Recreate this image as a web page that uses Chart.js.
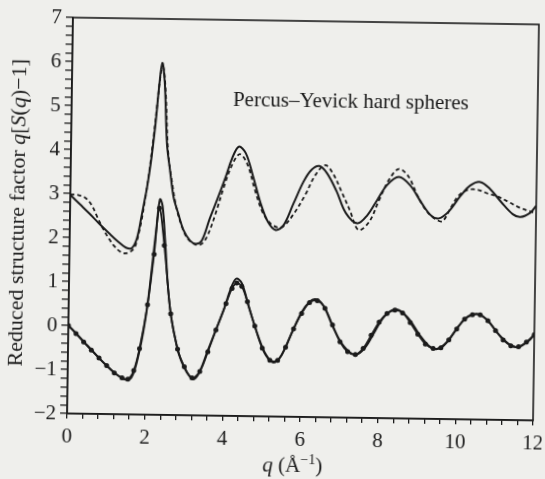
<!DOCTYPE html>
<html>
<head>
<meta charset="utf-8">
<script src="https://cdn.jsdelivr.net/npm/chart.js@4"></script>
<style>
  html, body { margin: 0; padding: 0; background: #efefec; }
  #wrap { width: 545px; height: 479px; }
  #chart { transform: rotate(0.85deg); transform-origin: 304px 219px; }
</style>
</head>
<body>
<div id="wrap"><canvas id="chart" width="545" height="479"></canvas></div>
<script>
// upper pair, shifted up by 3
const qUpper = [0, 0.25, 0.5, 0.75, 1.0, 1.25, 1.45, 1.6, 1.73, 1.84, 1.92, 1.97, 2.07, 2.17, 2.25, 2.32, 2.39, 2.47, 2.56, 2.66, 2.78, 2.93, 3.1, 3.25, 3.4, 3.6, 3.8, 4.0, 4.15, 4.32, 4.5, 4.7, 4.9, 5.1, 5.3, 5.5, 5.75, 6.0, 6.2, 6.4, 6.6, 6.85, 7.1, 7.4, 7.65, 7.9, 8.15, 8.45, 8.75, 9.05, 9.3, 9.5, 9.75, 10.05, 10.3, 10.55, 10.8, 11.1, 11.4, 11.6, 11.85, 12.0];
const upperSolid = [2.97, 2.76, 2.55, 2.33, 2.12, 1.92, 1.79, 1.78, 2.0, 2.5, 2.9, 3.15, 3.8, 4.65, 5.5, 6.0, 5.55, 4.15, 3.55, 2.95, 2.6, 2.2, 1.97, 1.9, 1.97, 2.48, 2.95, 3.45, 3.85, 4.12, 3.98, 3.45, 2.85, 2.42, 2.24, 2.35, 2.85, 3.35, 3.62, 3.71, 3.55, 3.15, 2.65, 2.42, 2.6, 2.95, 3.3, 3.49, 3.3, 2.9, 2.62, 2.56, 2.72, 3.08, 3.32, 3.4, 3.25, 2.95, 2.68, 2.62, 2.72, 2.88];

const qDashed = [0, 0.2, 0.4, 0.55, 0.7, 0.85, 1.0, 1.15, 1.3, 1.45, 1.6, 1.7, 1.83, 1.92, 2.02, 2.12, 2.22, 2.3, 2.35, 2.42, 2.5, 2.63, 2.74, 2.9, 3.05, 3.25, 3.4, 3.55, 3.75, 3.95, 4.15, 4.35, 4.55, 4.75, 4.95, 5.15, 5.35, 5.5, 5.75, 6.05, 6.3, 6.55, 6.75, 7.0, 7.2, 7.43, 7.7, 7.95, 8.2, 8.45, 8.7, 8.95, 9.2, 9.45, 9.6, 9.8, 10.0, 10.25, 10.5, 10.75, 11.0, 11.3, 11.6, 11.85, 12.0];
const upperDashed = [2.98, 2.97, 2.9, 2.75, 2.48, 2.22, 2.0, 1.82, 1.7, 1.66, 1.72, 1.85, 2.35, 2.85, 3.5, 4.3, 5.2, 5.85, 5.9, 5.3, 4.0, 3.2, 2.7, 2.25, 2.0, 1.88, 1.9, 2.1, 2.6, 3.2, 3.7, 3.95, 3.72, 3.15, 2.65, 2.4, 2.3, 2.33, 2.6, 3.05, 3.5, 3.73, 3.55, 3.1, 2.72, 2.27, 2.45, 2.95, 3.42, 3.67, 3.5, 3.05, 2.7, 2.52, 2.5, 2.8, 3.08, 3.22, 3.22, 3.14, 3.08, 2.95, 2.82, 2.75, 2.7];

// lower pair
const qLower = [0, 0.25, 0.5, 0.75, 1.0, 1.25, 1.45, 1.6, 1.71, 1.84, 1.93, 2.03, 2.13, 2.23, 2.31, 2.38, 2.46, 2.54, 2.63, 2.74, 2.85, 3.0, 3.15, 3.25, 3.4, 3.6, 3.8, 4.0, 4.15, 4.3, 4.45, 4.65, 4.9, 5.1, 5.3, 5.5, 5.75, 6.0, 6.2, 6.35, 6.55, 6.8, 7.1, 7.4, 7.65, 7.9, 8.15, 8.45, 8.75, 9.05, 9.3, 9.5, 9.75, 10.05, 10.3, 10.55, 10.8, 11.1, 11.4, 11.6, 11.85, 12.0];
const lowerSolid = [0, -0.22, -0.45, -0.68, -0.9, -1.09, -1.2, -1.2, -1.02, -0.55, -0.12, 0.5, 1.35, 2.25, 2.9, 2.75, 1.95, 1.0, 0.3, -0.2, -0.6, -0.92, -1.12, -1.18, -1.0, -0.52, -0.05, 0.42, 0.85, 1.12, 1.02, 0.45, -0.2, -0.6, -0.77, -0.6, -0.1, 0.38, 0.62, 0.68, 0.55, 0.08, -0.38, -0.57, -0.4, -0.02, 0.33, 0.48, 0.28, -0.1, -0.35, -0.41, -0.25, 0.12, 0.35, 0.4, 0.25, -0.07, -0.3, -0.34, -0.2, -0.05];

const qFit = [0, 0.2, 0.4, 0.6, 0.8, 1.0, 1.2, 1.4, 1.55, 1.7, 1.84, 2.03, 2.18, 2.3, 2.44, 2.63, 2.82, 3.0, 3.2, 3.4, 3.6, 3.8, 4.05, 4.2, 4.32, 4.45, 4.6, 4.8, 5.0, 5.2, 5.4, 5.6, 5.8, 6.0, 6.2, 6.4, 6.6, 6.8, 7.0, 7.2, 7.4, 7.6, 7.8, 8.0, 8.2, 8.4, 8.6, 8.8, 9.0, 9.2, 9.4, 9.6, 9.8, 10.0, 10.2, 10.4, 10.6, 10.8, 11.0, 11.2, 11.4, 11.6, 11.8, 12.0];
const lowerFit = [0, -0.18, -0.37, -0.55, -0.73, -0.9, -1.06, -1.17, -1.2, -1.0, -0.5, 0.5, 1.65, 2.7, 1.85, 0.3, -0.5, -0.9, -1.15, -1.0, -0.55, -0.05, 0.55, 0.9, 1.02, 0.95, 0.6, 0.05, -0.45, -0.72, -0.72, -0.42, 0.0, 0.35, 0.6, 0.65, 0.48, 0.1, -0.28, -0.5, -0.56, -0.42, -0.12, 0.18, 0.38, 0.46, 0.4, 0.18, -0.08, -0.3, -0.4, -0.38, -0.2, 0.05, 0.28, 0.38, 0.38, 0.25, 0.03, -0.18, -0.31, -0.33, -0.22, -0.05];

const ink = '#1b1b1b';
const serif = '"Liberation Serif", "Times New Roman", serif';

function pts(xs, ys) {
  return xs.map((x, i) => ({x: x, y: ys[i]}));
}

function fmt(v) {
  const r = Math.round(v);
  if (Math.abs(v - r) > 1e-6) return '';
  return r < 0 ? '\u2212' + Math.abs(r) : String(r);
}

// keep the plot box fixed, labels may hang over the edges
function noPad(s) {
  s.paddingLeft = 0; s.paddingRight = 0; s.paddingTop = 0; s.paddingBottom = 0;
}

// box, axis titles and the inset label
const decor = {
  id: 'decor',
  afterDraw(chart) {
    const ctx = chart.ctx;
    const a = chart.chartArea;
    const xs = chart.scales.x, ys = chart.scales.y;
    ctx.save();
    ctx.strokeStyle = ink;
    ctx.lineWidth = 1.6;
    ctx.strokeRect(a.left, a.top, a.right - a.left, a.bottom - a.top);

    ctx.fillStyle = ink;
    ctx.textBaseline = 'alphabetic';

    // label inside the plot
    ctx.font = '21px ' + serif;
    ctx.textAlign = 'left';
    ctx.fillText('Percus\u2013Yevick hard spheres', xs.getPixelForValue(4.15), ys.getPixelForValue(5.05));

    // x title: q (Å^-1)
    const xParts = [
      {t: 'q', f: 'italic 21px ' + serif, dy: 0},
      {t: ' (\u00c5', f: '21px ' + serif, dy: 0},
      {t: '\u22121', f: '14px ' + serif, dy: -8},
      {t: ')', f: '21px ' + serif, dy: 0}
    ];
    drawParts(ctx, xParts, (a.left + a.right) / 2 - 7, 472);

    // y title, rotated
    ctx.translate(24, (a.top + a.bottom) / 2 - 2);
    ctx.rotate(-Math.PI / 2);
    const n = '22px ' + serif, it = 'italic 22px ' + serif;
    const yParts = [
      {t: 'Reduced structure factor ', f: n, dy: 0},
      {t: 'q', f: it, dy: 0},
      {t: '[', f: n, dy: 0},
      {t: 'S', f: it, dy: 0},
      {t: '(', f: n, dy: 0},
      {t: 'q', f: it, dy: 0},
      {t: ')\u22121]', f: n, dy: 0}
    ];
    drawParts(ctx, yParts, 0, 0);
    ctx.restore();
  }
};

function drawParts(ctx, parts, cx, baseY) {
  let total = 0;
  parts.forEach(p => { ctx.font = p.f; p.w = ctx.measureText(p.t).width; total += p.w; });
  let x = cx - total / 2;
  ctx.textAlign = 'left';
  parts.forEach(p => {
    ctx.font = p.f;
    ctx.fillText(p.t, x, baseY + p.dy);
    x += p.w;
  });
}

new Chart(document.getElementById('chart'), {
  type: 'line',
  data: {
    datasets: [
      {data: pts(qUpper, upperSolid), borderColor: ink, borderWidth: 2, pointRadius: 0, tension: 0.35},
      {data: pts(qDashed, upperDashed), borderColor: ink, borderWidth: 1.8, borderDash: [4, 3], pointRadius: 0, tension: 0.35},
      {data: pts(qLower, lowerSolid), borderColor: ink, borderWidth: 2, pointRadius: 0, tension: 0.35},
      {data: pts(qFit, lowerFit), borderColor: ink, borderWidth: 1.8, pointRadius: 2.5, pointBackgroundColor: ink, pointBorderWidth: 0, tension: 0.35}
    ]
  },
  options: {
    responsive: false,
    animation: false,
    events: [],
    layout: {padding: {top: 21, right: 9, left: 0, bottom: 0}},
    plugins: {legend: {display: false}, tooltip: {enabled: false}},
    scales: {
      x: {
        type: 'linear', min: 0, max: 12,
        afterFit: s => { s.height = 62; noPad(s); },
        ticks: {stepSize: 0.4, autoSkip: false, maxRotation: 0, padding: 6, color: ink,
          font: {family: serif, size: 21},
          callback: v => (Math.abs(v / 2 - Math.round(v / 2)) < 1e-6 ? fmt(v) : '')},
        grid: {drawOnChartArea: false, tickLength: 5, color: ink, lineWidth: 1.3},
        border: {display: true, color: ink, width: 1.6}
      },
      y: {
        min: -2, max: 7,
        afterFit: s => { s.width = 70; noPad(s); },
        ticks: {stepSize: 0.2, autoSkip: false, padding: 4, color: ink,
          font: {family: serif, size: 21},
          callback: v => fmt(v)},
        grid: {drawOnChartArea: false, tickLength: 7, color: ink, lineWidth: 1.3},
        border: {display: true, color: ink, width: 1.6}
      }
    }
  },
  plugins: [decor]
});
</script>
</body>
</html>
